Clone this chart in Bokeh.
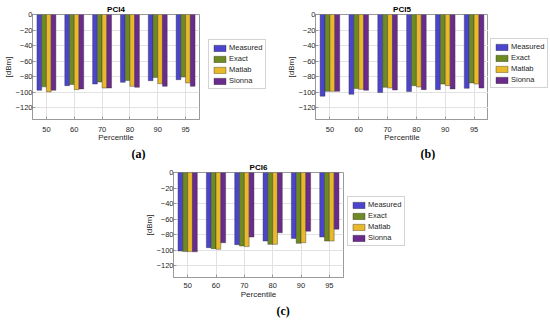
from bokeh.plotting import figure
from bokeh.models import (FactorRange, Legend, LegendItem, Title, FixedTicker,
                          ColumnDataSource, Spacer)
from bokeh.layouts import column, row
from bokeh.transform import dodge
from bokeh.embed import file_html
from bokeh.resources import INLINE

percentiles = ["50", "60", "70", "80", "90", "95"]
series = ["Measured", "Exact", "Matlab", "Sionna"]
colors = ["#4b44cc", "#6f8a22", "#e8b92a", "#6a2b8c"]

pci4_measured = [-97.4, -91.5, -89.4, -87.2, -85.1, -83.8]
pci4_exact = [-93.0, -90.0, -86.8, -84.7, -80.9, -80.4]
pci4_matlab = [-99.5, -96.6, -94.5, -92.3, -89.0, -88.0]
pci4_sionna = [-97.4, -95.7, -94.5, -93.6, -92.3, -92.3]

pci5_measured = [-105.0, -102.6, -100.4, -99.1, -96.6, -94.9]
pci5_exact = [-98.7, -95.3, -93.6, -91.5, -89.4, -88.0]
pci5_matlab = [-98.7, -96.2, -94.5, -93.2, -91.5, -89.4]
pci5_sionna = [-98.7, -97.4, -97.0, -96.6, -95.7, -94.5]

pci6_measured = [-101.0, -96.6, -92.8, -88.1, -84.7, -83.0]
pci6_exact = [-101.7, -97.9, -94.5, -92.4, -91.1, -88.1]
pci6_matlab = [-101.7, -98.7, -95.3, -92.4, -90.3, -88.1]
pci6_sionna = [-102.0, -90.3, -83.0, -77.5, -75.4, -72.9]

y_ticks = [-120, -100, -80, -60, -40, -20, 0]

FONT = "Liberation Sans"
GRAY = "#9a9a9a"
TXT = "#262626"
OFFSETS = [-0.255, -0.085, 0.085, 0.255]
FIELDS = ["m", "e", "a", "s"]


def make_source(values):
    return ColumnDataSource(dict(pct=percentiles, m=values[0], e=values[1],
                                 a=values[2], s=values[3]))


def make_panel(name, tag, src, width, height, bl, br, bt, bb,
               tag_offset, tick_standoff, label_standoff):
    p = figure(x_range=FactorRange(*percentiles, range_padding=0, factor_padding=0),
               y_range=(-135, 0), width=width, height=height,
               output_backend="svg", toolbar_location=None,
               min_border_left=bl, min_border_right=br,
               min_border_top=bt, min_border_bottom=bb)
    p.title.text = name
    p.title.align = "center"
    p.title.text_font = FONT
    p.title.text_font_size = "8px"
    p.title.text_font_style = "bold"
    p.title.text_color = "#000000"
    p.title.standoff = 1
    p.title.offset = 0

    for col, off, f in zip(colors, OFFSETS, FIELDS):
        p.vbar(x=dodge("pct", off, range=p.x_range), top=0, bottom=f,
               width=0.17, source=src, fill_color=col,
               line_color="#303030", line_width=0.4)

    p.xaxis.axis_label = "Percentile"
    p.yaxis.axis_label = "[dBm]"
    for ax in (p.xaxis, p.yaxis):
        ax.axis_label_text_font = FONT
        ax.axis_label_text_font_size = "8px"
        ax.axis_label_text_font_style = "normal"
        ax.axis_label_text_color = TXT
        ax.major_label_text_font = FONT
        ax.major_label_text_font_size = "7.5px"
        ax.major_label_text_color = TXT
        ax.axis_line_color = GRAY
        ax.major_tick_line_color = GRAY
        ax.major_tick_in = 3
        ax.major_tick_out = 0
        ax.minor_tick_line_color = None
    p.xaxis.major_label_standoff = tick_standoff
    p.xaxis.axis_label_standoff = label_standoff
    p.yaxis.major_label_standoff = 0
    p.yaxis.axis_label_standoff = 0
    p.yaxis.ticker = FixedTicker(ticks=y_ticks)

    p.xgrid.grid_line_color = "#e2e2e2"
    p.ygrid.grid_line_color = "#e2e2e2"
    p.outline_line_color = GRAY
    p.outline_line_alpha = 1

    p.add_layout(Title(text=tag, align="left", offset=tag_offset,
                       text_font="Liberation Serif", text_font_size="12px",
                       text_font_style="bold", text_color="#000000",
                       standoff=0), "below")
    return p


def make_legend(src, width, height, loc):
    # legend-only figure: its proxy bars fall outside its ranges, so only the
    # legend box (with real swatches) is visible
    q = figure(width=width, height=height, output_backend="svg",
               toolbar_location=None, min_border=0,
               x_axis_location=None, y_axis_location=None,
               x_range=FactorRange(*percentiles), y_range=(1, 2))
    q.grid.visible = False
    q.outline_line_color = None
    q.title.visible = False
    items = []
    for lab, col, f in zip(series, colors, FIELDS):
        r = q.vbar(x=dodge("pct", 30, range=q.x_range), top=0, bottom=f,
                   width=0, source=src,
                   fill_color=col, line_color="#303030", line_width=0.4)
        items.append(LegendItem(label=lab, renderers=[r]))
    leg = Legend(items=items, location=loc,
                 label_text_font=FONT, label_text_font_size="7.5px",
                 label_text_color=TXT, glyph_width=15, glyph_height=8,
                 label_height=8, label_standoff=2, padding=3, spacing=2,
                 margin=0, border_line_color="#a8a8a8", border_line_width=1,
                 background_fill_color="#ffffff", background_fill_alpha=1)
    q.add_layout(leg)
    return q


src4 = make_source([pci4_measured, pci4_exact, pci4_matlab, pci4_sionna])
src5 = make_source([pci5_measured, pci5_exact, pci5_matlab, pci5_sionna])
src6 = make_source([pci6_measured, pci6_exact, pci6_matlab, pci6_sionna])

pa = make_panel("PCI4", "(a)", src4, 204, 160, 32, 5, 14, 41, 99, 7, -2)
la = make_legend(src4, 71, 160, (4, 30))
pb = make_panel("PCI5", "(b)", src5, 213, 160, 40, 0, 14, 41, 105, 7, -2)
lb = make_legend(src5, 62, 160, (2, 31))
pc = make_panel("PCI6", "(c)", src6, 213, 160, 40, 3, 12, 43, 103, 5, -1)
lc = make_legend(src6, 74, 160, (1, 31))

layout = column(row(pa, la, pb, lb),
                row(Spacer(width=133, height=160), pc, lc))

open("out.html", "w").write(file_html(layout, INLINE))
